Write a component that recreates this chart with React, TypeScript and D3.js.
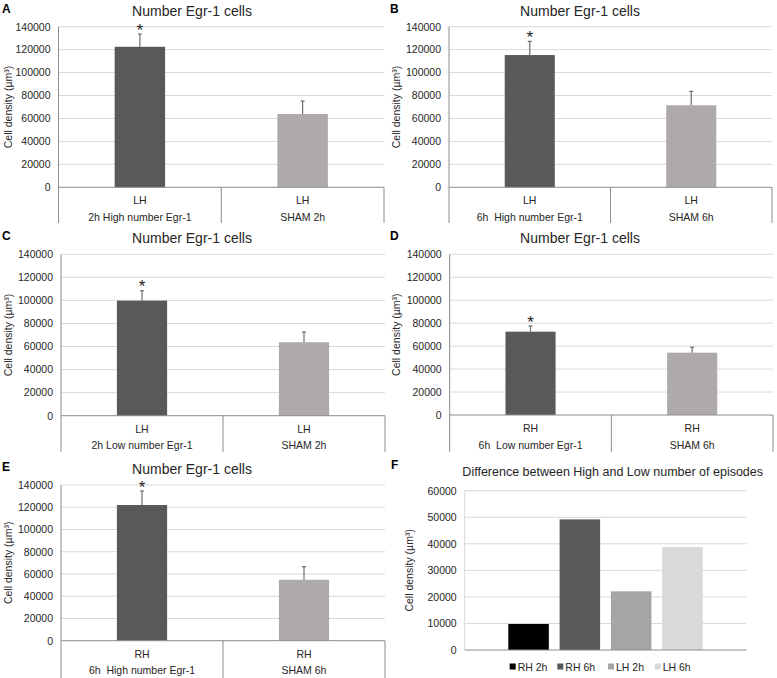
import React from "react";
import * as d3 from "d3";

// ---------- DATA ----------
const yTicks = [0, 20000, 40000, 60000, 80000, 100000, 120000, 140000];
const groupRow = ["LH", "LH"];

const panelALabels = ["2h High number Egr-1", "SHAM 2h"];
const panelAValues = [122500, 63900];
const panelAErrors = [133600, 75200];

const panelBLabels = ["6h  High number Egr-1", "SHAM 6h"];
const panelBValues = [115300, 71500];
const panelBErrors = [127200, 83600];

const panelCLabels = ["2h Low number Egr-1", "SHAM 2h"];
const panelCValues = [99800, 63700];
const panelCErrors = [108400, 72600];

const panelDLabels = ["6h  Low number Egr-1", "SHAM 6h"];
const panelDRow = ["RH", "RH"];
const panelDValues = [72600, 54300];
const panelDErrors = [77500, 59000];

const panelELabels = ["6h  High number Egr-1", "SHAM 6h"];
const panelERow = ["RH", "RH"];
const panelEValues = [122000, 54800];
const panelEErrors = [134600, 66500];

const significant = [true, false];

const diffSeries = ["RH 2h", "RH 6h", "LH 2h", "LH 6h"];
const diffValues = [9800, 49200, 22100, 38800];
const diffTicks = [0, 10000, 20000, 30000, 40000, 50000, 60000];

// ---------- STYLE ----------
const FONT = "'Liberation Sans', Arial, sans-serif";
const DARK = "#595959";
const LIGHT = "#aeaaaa";
const GRID = "#d9d9d9";
const AXIS = "#8c8c8c";
const TEXT = "#262626";
const diffColors = ["#000000", "#595959", "#a5a5a5", "#d9d9d9"];

type PanelProps = {
  letter: string;
  px: number;
  left: number;
  right: number;
  yTop: number;
  yZero: number;
  bottom: number;
  labels: string[];
  row: string[];
  values: number[];
  errors: number[];
};

function Panel(p: PanelProps) {
  const y = d3.scaleLinear().domain([0, 140000]).range([p.yZero, p.yTop]);
  const x = d3.scaleBand<string>().domain(p.labels).range([p.left, p.right]).padding(0);
  const bw = x.bandwidth() * 0.31;
  const colors = [DARK, LIGHT];
  const mid = (p.yTop + p.yZero) / 2;
  return (
    <g fontFamily={FONT}>
      <text x={p.px + 2} y={p.yTop - 14} fontSize={12} fontWeight="bold" fill="#000">
        {p.letter}
      </text>
      <text x={p.px + 192} y={p.yTop - 11} fontSize={14} textAnchor="middle" fill={TEXT}>
        Number Egr-1 cells
      </text>
      {yTicks.map((t) => (
        <g key={t}>
          {t > 0 && (
            <line x1={p.left} x2={p.right} y1={y(t)} y2={y(t)} stroke={GRID} strokeWidth={1} />
          )}
          <text x={p.left - 8} y={y(t) + 3.8} fontSize={10.5} textAnchor="end" fill={TEXT}>
            {d3.format("d")(t)}
          </text>
        </g>
      ))}
      <text
        transform={`translate(${p.px + 12},${mid}) rotate(-90)`}
        fontSize={10.5}
        textAnchor="middle"
        fill={TEXT}
      >
        Cell density (µm³)
      </text>
      {p.labels.map((l, i) => {
        const cx = (x(l) as number) + x.bandwidth() / 2;
        return (
          <g key={l}>
            <rect
              x={cx - bw / 2}
              y={y(p.values[i])}
              width={bw}
              height={p.yZero - y(p.values[i])}
              fill={colors[i]}
            />
            <line x1={cx} x2={cx} y1={y(p.values[i])} y2={y(p.errors[i])} stroke="#6e6e6e" strokeWidth={1.2} />
            <line x1={cx - 2} x2={cx + 2} y1={y(p.errors[i])} y2={y(p.errors[i])} stroke="#6e6e6e" strokeWidth={1.2} />
            {significant[i] && (
              <text x={cx} y={y(p.errors[i]) + 1.5} fontSize={17} textAnchor="middle" fill="#222">
                *
              </text>
            )}
            <text x={cx} y={p.yZero + 17} fontSize={10.5} textAnchor="middle" fill={TEXT}>
              {p.row[i]}
            </text>
            <text x={cx} y={p.yZero + 33.5} fontSize={10.5} textAnchor="middle" fill={TEXT} style={{ whiteSpace: "pre" }}>
              {l}
            </text>
          </g>
        );
      })}
      <line x1={p.left} x2={p.right} y1={p.yZero} y2={p.yZero} stroke={AXIS} strokeWidth={1} />
      <line x1={p.left} x2={p.left} y1={p.yTop} y2={p.bottom} stroke={AXIS} strokeWidth={1} />
      <line x1={(p.left + p.right) / 2} x2={(p.left + p.right) / 2} y1={p.yZero} y2={p.bottom} stroke={AXIS} strokeWidth={1} />
      <line x1={p.right} x2={p.right} y1={p.yZero} y2={p.bottom} stroke={AXIS} strokeWidth={1} />
    </g>
  );
}

function DiffPanel() {
  const left = 464.7;
  const right = 746.3;
  const yTop = 490.7;
  const yZero = 650;
  const y = d3.scaleLinear().domain([0, 60000]).range([yZero, yTop]);
  const x = d3.scaleBand<string>().domain(diffSeries).range([left, right]).paddingInner(0.21).paddingOuter(0.85);
  const legendX = [509.7, 557.3, 608, 654.7];
  return (
    <g fontFamily={FONT}>
      <text x={391} y={469} fontSize={12} fontWeight="bold" fill="#000">
        F
      </text>
      <text x={612.7} y={476} fontSize={12.5} textAnchor="middle" fill={TEXT}>
        Difference between High and Low number of episodes
      </text>
      {diffTicks.map((t) => (
        <g key={t}>
          {t > 0 && <line x1={left} x2={right} y1={y(t)} y2={y(t)} stroke={GRID} strokeWidth={1} />}
          <text x={left - 8} y={y(t) + 3.8} fontSize={10.5} textAnchor="end" fill={TEXT}>
            {t}
          </text>
        </g>
      ))}
      <text transform={`translate(413,${(yTop + yZero) / 2}) rotate(-90)`} fontSize={10.5} textAnchor="middle" fill={TEXT}>
        Cell density (µm³)
      </text>
      {diffSeries.map((s, i) => (
        <rect
          key={s}
          x={x(s) as number}
          y={y(diffValues[i])}
          width={x.bandwidth()}
          height={yZero - y(diffValues[i])}
          fill={diffColors[i]}
        />
      ))}
      <line x1={left} x2={left} y1={yTop} y2={yZero} stroke={GRID} strokeWidth={1} />
      <line x1={left} x2={right} y1={yZero} y2={yZero} stroke={AXIS} strokeWidth={1} />
      {diffSeries.map((s, i) => (
        <g key={s}>
          <rect x={legendX[i]} y={663.5} width={6} height={6} fill={diffColors[i]} />
          <text x={legendX[i] + 8} y={670.5} fontSize={10.5} fill={TEXT}>
            {s}
          </text>
        </g>
      ))}
    </g>
  );
}

export default function App() {
  return (
    <svg
      width={777}
      height={678}
      style={{ position: "absolute", left: 0, top: 0, background: "#fff" }}
    >
      <rect width={777} height={678} fill="#fff" />
      <Panel letter="A" px={0} left={58.5} right={384} yTop={26.7} yZero={187.3} bottom={223}
        labels={panelALabels} row={groupRow} values={panelAValues} errors={panelAErrors} />
      <Panel letter="B" px={388} left={449} right={772} yTop={26.7} yZero={187.3} bottom={223}
        labels={panelBLabels} row={groupRow} values={panelBValues} errors={panelBErrors} />
      <Panel letter="C" px={0} left={61} right={385} yTop={254.3} yZero={415.7} bottom={452}
        labels={panelCLabels} row={groupRow} values={panelCValues} errors={panelCErrors} />
      <Panel letter="D" px={388} left={449.7} right={773} yTop={254.3} yZero={415} bottom={452}
        labels={panelDLabels} row={panelDRow} values={panelDValues} errors={panelDErrors} />
      <Panel letter="E" px={0} left={61} right={385} yTop={485} yZero={640.7} bottom={678}
        labels={panelELabels} row={panelERow} values={panelEValues} errors={panelEErrors} />
      <DiffPanel />
    </svg>
  );
}
